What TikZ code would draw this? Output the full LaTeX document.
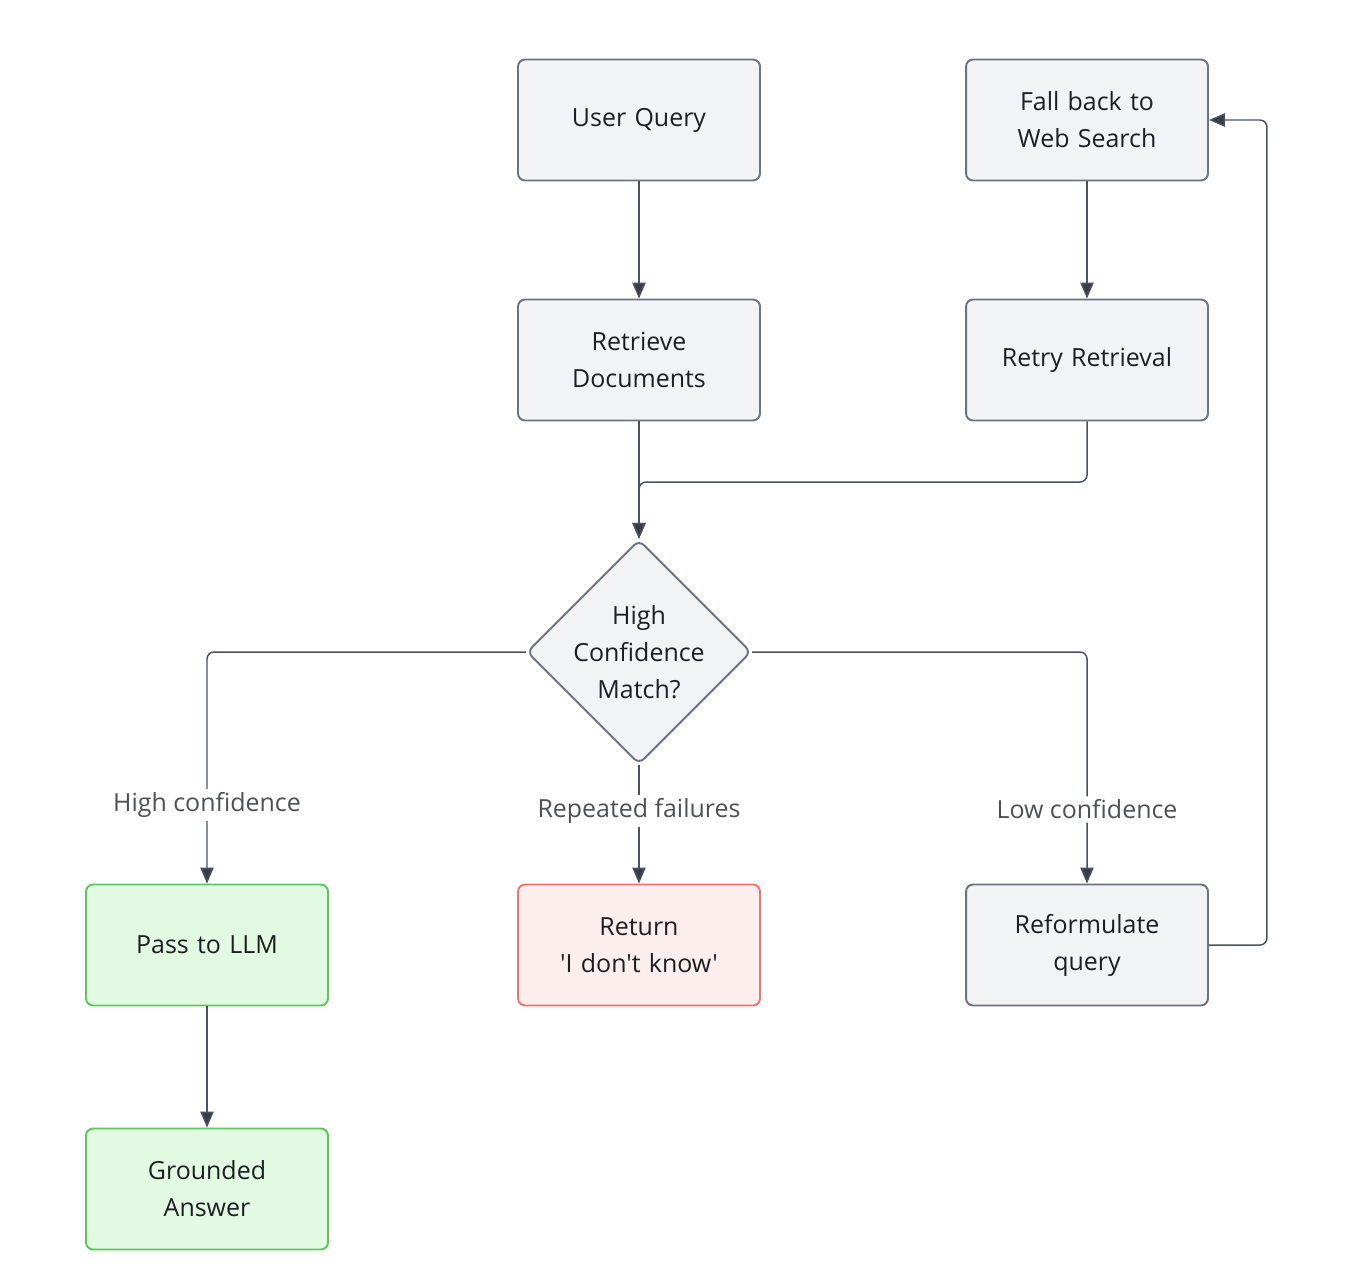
\documentclass[tikz,border=0pt]{standalone}
\usepackage{fontspec}
\setmainfont{Open Sans}[Ligatures=TeXOff]
\usetikzlibrary{shapes.geometric,arrows.meta,positioning}

\begin{document}
\begin{tikzpicture}[
    x=0.02cm, y=-0.02cm,
    font=\fontsize{14.2}{21}\selectfont,
    >=Triangle,
]

\definecolor{boxFill}{RGB}{242, 243, 245}
\definecolor{boxLine}{RGB}{108, 114, 126}
\definecolor{okFill}{RGB}{226, 249, 226}
\definecolor{okLine}{RGB}{92, 199, 92}
\definecolor{failFill}{RGB}{253, 238, 238}
\definecolor{failLine}{RGB}{248, 113, 113}
\definecolor{edgeCol}{RGB}{75, 82, 94}
\definecolor{tipCol}{RGB}{55, 62, 74}
\definecolor{textCol}{RGB}{28, 30, 34}
\definecolor{labelCol}{RGB}{78, 80, 84}

\tikzset{
    proc_node/.style = {rectangle, rounded corners=4pt, minimum width=4.84cm, minimum height=2.42cm,
                        text width=4.5cm, align=center, draw=boxLine, line width=1.1pt, fill=boxFill, text=textCol},
    ok_node/.style = {proc_node, draw=okLine, fill=okFill},
    fail_node/.style = {proc_node, draw=failLine, fill=failFill},
    decision_node/.style = {diamond, rounded corners=4pt, minimum width=4.44cm, minimum height=4.44cm, inner sep=0pt,
                            align=center, draw=boxLine, line width=1.1pt, fill=boxFill, text=textCol},
    arrow/.style = {draw=edgeCol, line width=0.85pt, -{Triangle[length=9pt, width=7.5pt, fill=tipCol]}},
    label/.style = {fill=white, text=labelCol, inner sep=2pt}
}

\useasboundingbox (0, 0) rectangle (1348, 1284);

% =========== RETRIEVAL ===========
\node[proc_node] (query) at (639, 120) {User Query};
\node[proc_node] (retrieve) at (639, 360) {Retrieve\\Documents};
\node[decision_node] (check) at (639, 652) {High\\Confidence\\Match?};

% =========== FALLBACK ===========
\node[proc_node] (fallback) at (1087, 120) {Fall back to\\Web Search};
\node[proc_node] (retry) at (1087, 360) {Retry Retrieval};
\node[proc_node] (reform) at (1087, 945) {Reformulate\\query};

% =========== OUTCOMES ===========
\node[ok_node] (llm) at (207, 945) {Pass to LLM};
\node[ok_node] (answer) at (207, 1189) {Grounded\\Answer};
\node[fail_node] (idk) at (639, 945) {Return\\'I don't know'};

\coordinate (merge) at (639, 482);

% Arrows
\draw[arrow] (query) -- (retrieve);
\draw[arrow] (retrieve) -- (check);
\draw[arrow, rounded corners=4pt] (retry.south) |- (merge) -- (check.north);
\draw[arrow] (fallback) -- (retry);
\draw[arrow, rounded corners=4pt] (check.west) -| node[label, pos=0.83] {High confidence} (llm.north);
\draw[arrow] (check.south) -- node[label, pos=0.39] {Repeated failures} (idk.north);
\draw[arrow, rounded corners=4pt] (check.east) -| node[label, pos=0.84] {Low confidence} (reform.north);
\draw[arrow, rounded corners=4pt] (reform.east) -- ++(58, 0) |- (fallback.east);
\draw[arrow] (llm) -- (answer);

\end{tikzpicture}
\end{document}
